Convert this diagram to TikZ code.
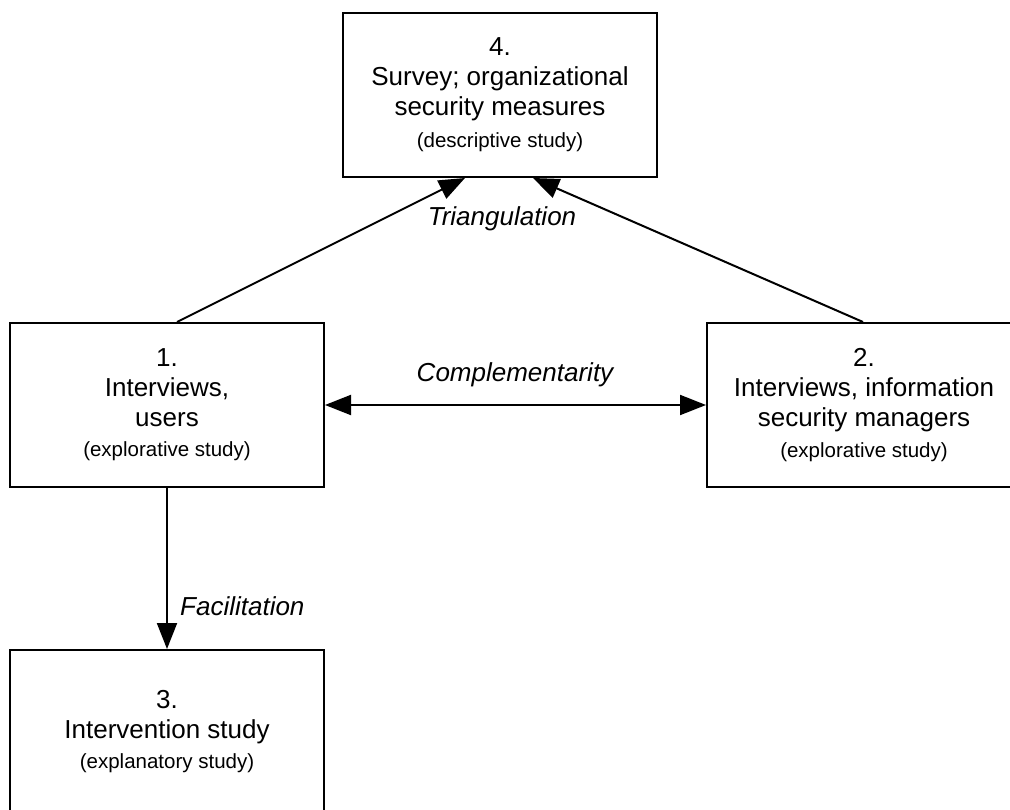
\documentclass[tikz,border=0pt]{standalone}
\usepackage{fontspec}
\setmainfont{Liberation Sans}
\usetikzlibrary{arrows.meta}
\newcommand{\studykind}[1]{{\fontsize{20.5}{24}\selectfont #1}}
\begin{document}
\begin{tikzpicture}[x=1pt,y=-1pt,
  box/.style={draw, line width=2pt, minimum width=314pt, minimum height=164pt,
    inner sep=0pt, align=center, font=\fontsize{26}{30}\selectfont},
  link/.style={line width=2pt, -{Triangle[length=26pt,width=20pt]}},
  both/.style={line width=2pt, {Triangle[length=26pt,width=20pt]}-{Triangle[length=26pt,width=20pt]}},
  tag/.style={font=\fontsize{26}{30}\selectfont\itshape, inner sep=0pt}]
\useasboundingbox (0,0) rectangle (1010,810);
\clip (0,0) rectangle (1010,810);

% study boxes
\node[box] (s4) at (500,95)  {4.\\Survey; organizational\\security measures\\[2pt]\studykind{(descriptive study)}};
\node[box] (s1) at (167,405) {1.\\Interviews,\\users\\\studykind{(explorative study)}};
\node[box] (s2) at (864,405) {2.\\Interviews, information\\security managers\\[1pt]\studykind{(explorative study)}};
\node[box] (s3) at (167,732) {3.\\Intervention study\\\studykind{(explanatory study)}};

% relations between the studies
\draw[link] ([xshift=10pt]s1.north) -- ([xshift=-35pt]s4.south);
\draw[link] ([xshift=-1pt]s2.north) -- ([xshift=33pt]s4.south);
\draw[both] (s1.east) -- (s2.west);
\draw[link] (s1.south) -- (s3.north);

% relation labels
\node[tag] (tri) at (502,219) {Triangulation};
\node[tag] (com) at (515,375) {Complementarity};
\node[tag, anchor=west] (fac) at (180,606) {Facilitation};
\end{tikzpicture}
\end{document}
